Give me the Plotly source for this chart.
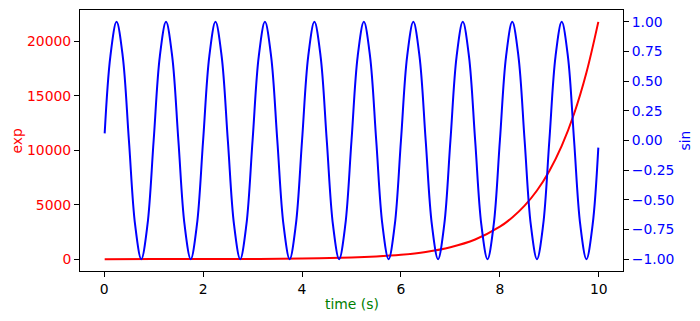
import plotly.graph_objects as go

# time samples (s) for the sine curve
t_sin = [0.01, 0.125, 0.25, 0.375, 0.5, 0.625, 0.75, 0.875,
         1.0, 1.125, 1.25, 1.375, 1.5, 1.625, 1.75, 1.875,
         2.0, 2.125, 2.25, 2.375, 2.5, 2.625, 2.75, 2.875,
         3.0, 3.125, 3.25, 3.375, 3.5, 3.625, 3.75, 3.875,
         4.0, 4.125, 4.25, 4.375, 4.5, 4.625, 4.75, 4.875,
         5.0, 5.125, 5.25, 5.375, 5.5, 5.625, 5.75, 5.875,
         6.0, 6.125, 6.25, 6.375, 6.5, 6.625, 6.75, 6.875,
         7.0, 7.125, 7.25, 7.375, 7.5, 7.625, 7.75, 7.875,
         8.0, 8.125, 8.25, 8.375, 8.5, 8.625, 8.75, 8.875,
         9.0, 9.125, 9.25, 9.375, 9.5, 9.625, 9.75, 9.875, 9.99]
sin_vals = [0.06, 0.71, 1.0, 0.71, 0.0, -0.71, -1.0, -0.71,
            0.0, 0.71, 1.0, 0.71, 0.0, -0.71, -1.0, -0.71,
            0.0, 0.71, 1.0, 0.71, 0.0, -0.71, -1.0, -0.71,
            0.0, 0.71, 1.0, 0.71, 0.0, -0.71, -1.0, -0.71,
            0.0, 0.71, 1.0, 0.71, 0.0, -0.71, -1.0, -0.71,
            0.0, 0.71, 1.0, 0.71, 0.0, -0.71, -1.0, -0.71,
            0.0, 0.71, 1.0, 0.71, 0.0, -0.71, -1.0, -0.71,
            0.0, 0.71, 1.0, 0.71, 0.0, -0.71, -1.0, -0.71,
            0.0, 0.71, 1.0, 0.71, 0.0, -0.71, -1.0, -0.71,
            0.0, 0.71, 1.0, 0.71, 0.0, -0.71, -1.0, -0.71, -0.06]

# time samples (s) and values for the exp curve
t_exp = [0.01, 1.0, 2.0, 3.0, 4.0, 5.0, 5.5, 6.0, 6.5, 7.0, 7.5, 8.0,
         8.25, 8.5, 8.75, 9.0, 9.25, 9.5, 9.75, 9.99]
exp_vals = [1, 3, 7, 20, 55, 148, 245, 403, 665, 1097, 1808, 2981,
            3828, 4915, 6311, 8103, 10405, 13360, 17154, 21807]

x_ticks = [0, 2, 4, 6, 8, 10]
left_ticks = [0, 5000, 10000, 15000, 20000]
left_labels = ["0", "5000", "10000", "15000", "20000"]
right_ticks = [-1.0, -0.75, -0.5, -0.25, 0.0, 0.25, 0.5, 0.75, 1.0]
right_labels = ["\u22121.00", "\u22120.75", "\u22120.50", "\u22120.25",
                "0.00", "0.25", "0.50", "0.75", "1.00"]

font = "DejaVu Sans"
fs = 13.9

axis_common = dict(showgrid=False, zeroline=False, showline=True, linecolor="black",
                   linewidth=1, ticks="outside", ticklen=5, tickcolor="black",
                   tickwidth=1, automargin=False)

fig = go.Figure()
fig.add_trace(go.Scatter(x=t_exp, y=exp_vals, mode="lines", line_shape="spline",
                         line=dict(color="red", width=2), yaxis="y"))
fig.add_trace(go.Scatter(x=t_sin, y=sin_vals, mode="lines", line_shape="spline",
                         line=dict(color="blue", width=2), yaxis="y2"))

fig.update_layout(
    width=700, height=321,
    margin=dict(l=80, r=77, t=10, b=50),
    plot_bgcolor="white", paper_bgcolor="white",
    showlegend=False,
    font=dict(family=font, size=fs, color="black"),
    xaxis=dict(range=[-0.489, 10.489], tickvals=x_ticks, mirror=True, **axis_common),
    yaxis=dict(range=[-1090, 22897], tickvals=left_ticks, ticktext=left_labels,
               tickfont=dict(color="red"), mirror=True, **axis_common),
    yaxis2=dict(range=[-1.1, 1.1], tickvals=right_ticks, ticktext=right_labels,
                tickfont=dict(color="blue"), overlaying="y", side="right",
                **axis_common),
    annotations=[
        dict(text="time (s)", xref="paper", yref="paper", x=0.5, y=0,
             xanchor="center", yanchor="middle", yshift=-33, showarrow=False,
             font=dict(color="green", size=fs)),
        dict(text="exp", xref="paper", yref="paper", x=0, y=0.5,
             xanchor="center", yanchor="middle", xshift=-64, textangle=-90,
             showarrow=False, font=dict(color="red", size=fs)),
        dict(text="sin", xref="paper", yref="paper", x=1, y=0.5,
             xanchor="center", yanchor="middle", xshift=61, textangle=-90,
             showarrow=False, font=dict(color="blue", size=fs)),
    ],
)

fig.write_html("out.html")
